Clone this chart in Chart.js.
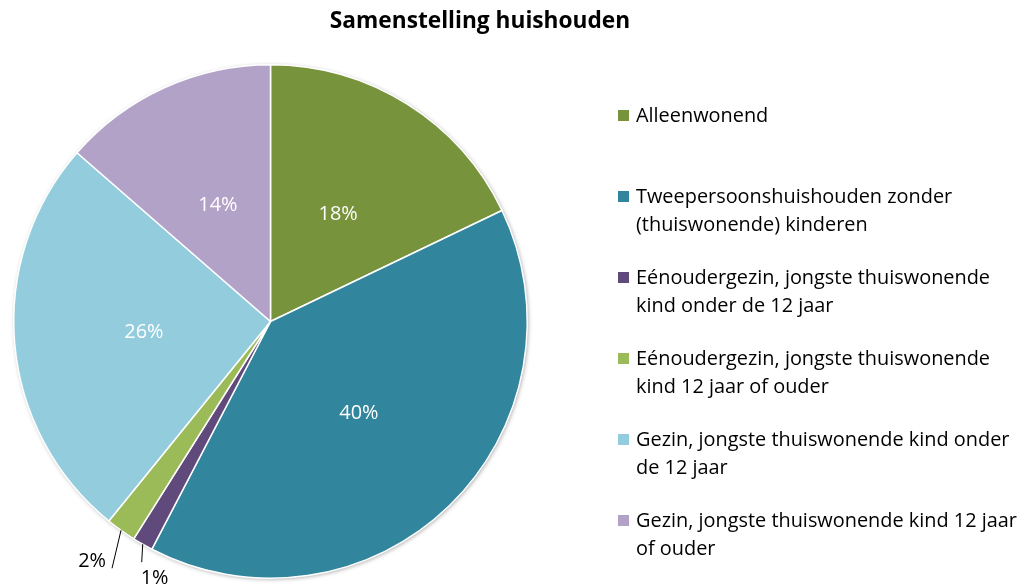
<!DOCTYPE html>
<html>
<head>
<meta charset="utf-8">
<script src="https://cdn.jsdelivr.net/npm/chart.js@4.4.0/dist/chart.umd.min.js"></script>
<style>
  html, body { margin: 0; background: #fff; }
</style>
</head>
<body>
<canvas id="chart" width="1031" height="586"></canvas>
<script>
// data
const chartTitle = "Samenstelling huishouden";
const categories = [
  ["Alleenwonend"],
  ["Tweepersoonshuishouden zonder", "(thuiswonende) kinderen"],
  ["Eénoudergezin, jongste thuiswonende", "kind onder de 12 jaar"],
  ["Eénoudergezin, jongste thuiswonende", "kind 12 jaar of ouder"],
  ["Gezin, jongste thuiswonende kind onder", "de 12 jaar"],
  ["Gezin, jongste thuiswonende kind 12 jaar", "of ouder"]
];
const values = [17.9, 39.8, 1.3, 1.9, 25.6, 13.6];
const colors = ["#77933C", "#31859C", "#604A7B", "#9BBB59", "#93CDDD", "#B3A2C7"];

// labels of the thin slices sit outside, with a leader line (offset from the arc edge)
const outsideLabels = {
  2: { dx: -1, dy: 18, align: "left", tx: -1, ty: 16 },
  3: { dx: -9, dy: 38, align: "right", tx: -6, ty: -7 }
};

const FONT = "'Open Sans', Lato, sans-serif";

// pick a font size so a sample string gets the width it has in the picture
function fitSize(ctx, weight, sample, width) {
  ctx.font = weight + " 20px " + FONT;
  return 20 * width / ctx.measureText(sample).width;
}

function percentText(i) {
  const total = values.reduce((a, b) => a + b, 0);
  return Math.round(values[i] / total * 100) + "%";
}

// shadow ring behind the pie
const pieShadow = {
  id: "pieShadow",
  beforeDatasetsDraw(chart) {
    const arc = chart.getDatasetMeta(0).data[0];
    const ctx = chart.ctx;
    ctx.save();
    ctx.shadowColor = "rgba(0,0,0,0.35)";
    ctx.shadowBlur = 4;
    ctx.shadowOffsetX = 1;
    ctx.shadowOffsetY = 1;
    ctx.fillStyle = "#fff";
    ctx.beginPath();
    ctx.arc(arc.x, arc.y, arc.outerRadius, 0, Math.PI * 2);
    ctx.fill();
    ctx.restore();
  }
};

// percentage labels
const sliceLabels = {
  id: "sliceLabels",
  afterDatasetsDraw(chart) {
    const ctx = chart.ctx;
    ctx.save();
    const size = fitSize(ctx, "normal", "Tweepersoonshuishouden zonder", 317);
    ctx.font = size.toFixed(1) + "px " + FONT;
    chart.getDatasetMeta(0).data.forEach((arc, i) => {
      const mid = (arc.startAngle + arc.endAngle) / 2;
      const out = outsideLabels[i];
      if (out) {
        const ex = arc.x + Math.cos(mid) * arc.outerRadius;
        const ey = arc.y + Math.sin(mid) * arc.outerRadius;
        const lx = ex + out.dx, ly = ey + out.dy;
        ctx.strokeStyle = "#000";
        ctx.lineWidth = 1;
        ctx.beginPath();
        ctx.moveTo(ex, ey);
        ctx.lineTo(lx, ly);
        ctx.stroke();
        ctx.fillStyle = "#000";
        ctx.textAlign = out.align;
        ctx.textBaseline = "middle";
        ctx.fillText(percentText(i), lx + out.tx, ly + out.ty);
      } else {
        const r = arc.outerRadius * 0.495;
        ctx.fillStyle = "#fff";
        ctx.textAlign = "center";
        ctx.textBaseline = "middle";
        ctx.fillText(percentText(i), arc.x + Math.cos(mid) * r, arc.y + Math.sin(mid) * r);
      }
    });
    ctx.restore();
  }
};

// title and the wrapped legend at the right
const titleAndLegend = {
  id: "titleAndLegend",
  afterDraw(chart) {
    const ctx = chart.ctx;
    ctx.save();
    ctx.fillStyle = "#000";
    const tSize = fitSize(ctx, "bold", chartTitle, 300);
    ctx.font = "bold " + tSize.toFixed(1) + "px " + FONT;
    ctx.textAlign = "center";
    ctx.textBaseline = "middle";
    ctx.fillText(chartTitle, 480, 22);

    const lSize = fitSize(ctx, "normal", "Tweepersoonshuishouden zonder", 317);
    ctx.font = lSize.toFixed(1) + "px " + FONT;
    ctx.textAlign = "left";
    categories.forEach((lines, i) => {
      const y = 115 + i * 81;
      ctx.fillStyle = colors[i];
      ctx.fillRect(618, y - 5, 11, 11);
      ctx.fillStyle = "#000";
      lines.forEach((line, j) => ctx.fillText(line, 636, y + 1.5 + j * 28));
    });
    ctx.restore();
  }
};

new Chart(document.getElementById("chart"), {
  type: "pie",
  data: {
    labels: categories.map(l => l.join(" ")),
    datasets: [{
      data: values,
      backgroundColor: colors,
      borderColor: "#fff",
      borderWidth: 1.5
    }]
  },
  options: {
    responsive: false,
    animation: false,
    layout: { padding: { left: 13, right: 503, top: 64, bottom: 7 } },
    plugins: {
      legend: { display: false },
      tooltip: { enabled: false }
    }
  },
  plugins: [pieShadow, sliceLabels, titleAndLegend]
});
</script>
</body>
</html>
